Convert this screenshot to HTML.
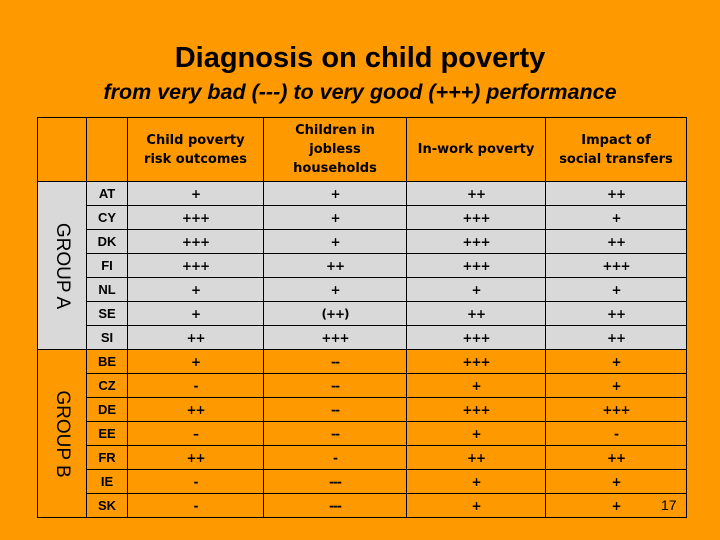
<!DOCTYPE html>
<html><head><style>
body{margin:0;width:720px;height:540px;background:#ff9900;position:relative;overflow:hidden;font-family:"Liberation Sans",sans-serif;}
.t1{position:absolute;top:42px;left:0;width:720px;text-align:center;font-size:29px;font-weight:bold;color:#000;}
.t2{position:absolute;top:80px;left:0;width:720px;text-align:center;font-size:21.5px;font-style:italic;font-weight:bold;}
table{position:absolute;left:37px;top:117px;border-collapse:collapse;table-layout:fixed;}
td{border:1px solid #000;padding:0;text-align:center;font-family:"DejaVu Sans",sans-serif;font-size:12px;height:23px;}
tr.h td{height:63px;font-size:13px;font-weight:bold;line-height:19px;}
.g td{background:#d9d9d9;}
.code{font-weight:bold;font-family:"Liberation Sans",sans-serif;font-size:13px;}
.v{font-weight:bold;letter-spacing:-1px;}
.grp{position:relative;}
.grp span{position:absolute;left:50%;top:50%;transform:translate(-50%,-50%) rotate(90deg);white-space:nowrap;font-family:"Liberation Sans",sans-serif;font-size:19px;}
.pn{position:absolute;left:661px;top:497px;font-size:14px;}
</style></head><body>
<div class="t1">Diagnosis on child poverty</div>
<div class="t2">from very bad (---) to very good (+++) performance</div>
<table>
<colgroup><col style="width:49px"><col style="width:41px"><col style="width:136px"><col style="width:143px"><col style="width:139px"><col style="width:141px"></colgroup>
<tr class="h"><td></td><td></td><td>Child poverty<br>risk outcomes</td><td>Children in<br>jobless<br>households</td><td>In-work poverty</td><td>Impact of<br>social transfers</td></tr>
<tr class="g"><td rowspan="7" class="grp"><span>GROUP A</span></td><td class="code">AT</td><td class="v">+</td><td class="v">+</td><td class="v">++</td><td class="v">++</td></tr>
<tr class="g"><td class="code">CY</td><td class="v">+++</td><td class="v">+</td><td class="v">+++</td><td class="v">+</td></tr>
<tr class="g"><td class="code">DK</td><td class="v">+++</td><td class="v">+</td><td class="v">+++</td><td class="v">++</td></tr>
<tr class="g"><td class="code">FI</td><td class="v">+++</td><td class="v">++</td><td class="v">+++</td><td class="v">+++</td></tr>
<tr class="g"><td class="code">NL</td><td class="v">+</td><td class="v">+</td><td class="v">+</td><td class="v">+</td></tr>
<tr class="g"><td class="code">SE</td><td class="v">+</td><td class="v">(++)</td><td class="v">++</td><td class="v">++</td></tr>
<tr class="g"><td class="code">SI</td><td class="v">++</td><td class="v">+++</td><td class="v">+++</td><td class="v">++</td></tr>
<tr><td rowspan="7" class="grp"><span>GROUP B</span></td><td class="code">BE</td><td class="v">+</td><td class="v">--</td><td class="v">+++</td><td class="v">+</td></tr>
<tr><td class="code">CZ</td><td class="v">-</td><td class="v">--</td><td class="v">+</td><td class="v">+</td></tr>
<tr><td class="code">DE</td><td class="v">++</td><td class="v">--</td><td class="v">+++</td><td class="v">+++</td></tr>
<tr><td class="code">EE</td><td class="v">–</td><td class="v">--</td><td class="v">+</td><td class="v">-</td></tr>
<tr><td class="code">FR</td><td class="v">++</td><td class="v">-</td><td class="v">++</td><td class="v">++</td></tr>
<tr><td class="code">IE</td><td class="v">-</td><td class="v">---</td><td class="v">+</td><td class="v">+</td></tr>
<tr><td class="code">SK</td><td class="v">-</td><td class="v">---</td><td class="v">+</td><td class="v">+</td></tr>
</table>
<div class="pn">17</div>
</body></html>
